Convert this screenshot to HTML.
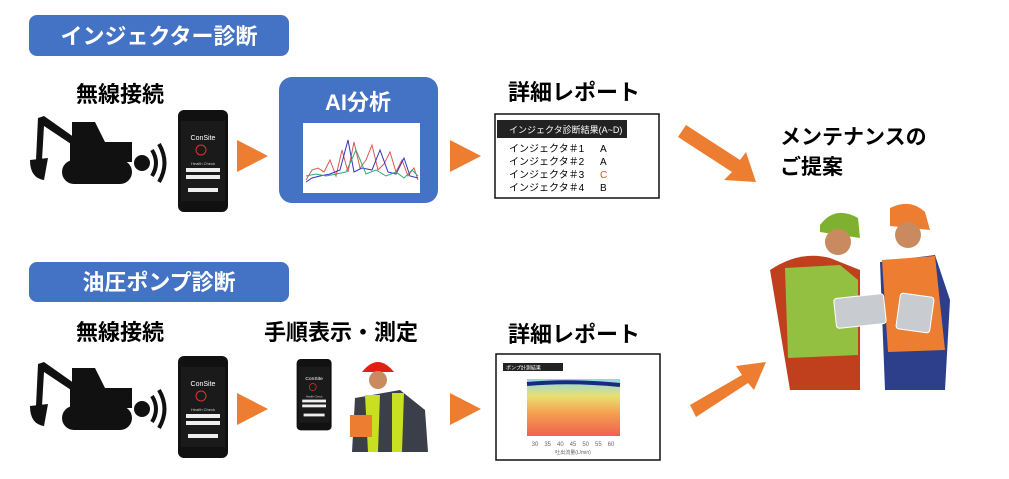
<!DOCTYPE html>
<html><head><meta charset="utf-8"><style>
body{margin:0;background:#fff;width:1009px;height:474px;overflow:hidden;font-family:"Liberation Sans","Noto Sans CJK JP",sans-serif}
svg text{font-family:"Liberation Sans","Noto Sans CJK JP",sans-serif}
</style></head><body>
<svg width="1009" height="474" viewBox="0 0 1009 474" xmlns="http://www.w3.org/2000/svg">
<defs>
<linearGradient id="hm" x1="0" y1="0" x2="0" y2="1">
<stop offset="0" stop-color="#8ed8e8"/><stop offset="0.3" stop-color="#e8e070"/><stop offset="0.6" stop-color="#f5a050"/><stop offset="1" stop-color="#f06050"/></linearGradient>
<g id="exc">
<rect x="62" y="160" width="70" height="24" rx="12" fill="#111"/>
<rect x="70" y="142" width="62" height="20" fill="#111"/>
<path d="M72 142 L72 122 L95 122 L105 142 Z" fill="#111"/>
<path d="M38 118 L44 116 L78 140 L74 146 L44 126 L42 160 L36 160 Z" fill="#111"/>
<path d="M30 160 Q30 178 44 180 L48 158 Z" fill="#111"/>
<circle cx="142" cy="163" r="8" fill="#111"/>
<path d="M152 150 Q160 163 152 176" stroke="#111" stroke-width="4" fill="none"/>
<path d="M159 144 Q170 163 159 182" stroke="#111" stroke-width="4" fill="none"/>
</g>
<g id="phone">
<rect x="178" y="110" width="50" height="102" rx="6" fill="#111"/>
<rect x="181" y="121" width="44" height="80" fill="#1a1a1a"/>
<text x="203" y="140" fill="#fff" font-size="7" text-anchor="middle">ConSite</text>
<circle cx="201" cy="150" r="5" fill="none" stroke="#d33" stroke-width="1"/>
<text x="203" y="165" fill="#ccc" font-size="4" text-anchor="middle">Health Check</text>
<rect x="186" y="168" width="34" height="4" fill="#eee"/><rect x="186" y="175" width="34" height="4" fill="#eee"/>
<rect x="188" y="188" width="30" height="4" fill="#eee"/>
</g>
<polygon id="tri" points="0,0 31,16 0,32" fill="#ed7d31"/>
</defs>

<rect x="29" y="15" width="260" height="41" rx="8" fill="#4472c4"/>
<text x="159" y="44" fill="#fff" font-size="22" font-weight="bold" text-anchor="middle">インジェクター診断</text>
<text x="120" y="102" font-size="22" font-weight="bold" text-anchor="middle">無線接続</text>
<use href="#exc"/><use href="#phone"/>
<use href="#tri" x="237" y="140"/>
<rect x="279" y="77" width="159" height="126" rx="13" fill="#4472c4"/>
<text x="358" y="110" fill="#fff" font-size="22" font-weight="bold" text-anchor="middle">AI分析</text>
<rect x="303" y="123" width="117" height="70" fill="#fff"/>
<polyline points="306,180 312,170 318,168 324,172 330,160 336,176 342,150 348,172 354,142 360,168 366,160 372,145 378,170 384,164 390,152 396,172 402,160 408,176 414,168 418,180" fill="none" stroke="#d55" stroke-width="1"/>
<polyline points="306,182 312,178 320,176 330,174 340,170 348,140 354,172 362,168 372,170 380,150 388,172 396,174 404,158 410,176 418,178" fill="none" stroke="#33b" stroke-width="1"/>
<polyline points="306,176 316,174 326,176 336,174 346,172 356,150 366,174 376,170 386,176 396,172 404,178 412,170 418,176" fill="none" stroke="#3a7" stroke-width="1"/>
<use href="#tri" x="450" y="140"/>
<text x="574" y="100" font-size="22" font-weight="bold" text-anchor="middle">詳細レポート</text>
<rect x="495" y="114" width="164" height="84" fill="#fff" stroke="#111" stroke-width="1.5"/>
<rect x="497" y="120" width="130" height="18" fill="#222"/>
<text x="509" y="133" fill="#fff" font-size="9">インジェクタ診断結果(A~D)</text>
<g font-size="10"><text x="509" y="152">インジェクタ＃1</text><text x="600" y="152">A</text>
<text x="509" y="165">インジェクタ＃2</text><text x="600" y="165">A</text>
<text x="509" y="178">インジェクタ＃3</text><text x="600" y="178" fill="#e05020">C</text>
<text x="509" y="191">インジェクタ＃4</text><text x="600" y="191">B</text></g>
<polygon points="686,125 740,160 746,152 756,182 724,180 732,172 678,137" fill="#ed7d31"/>
<text x="780" y="144" font-size="21" font-weight="bold">メンテナンスの</text>
<text x="780" y="174" font-size="21" font-weight="bold">ご提案</text>

<g>
<path d="M820 225 Q835 205 858 218 L860 238 L820 232 Z" fill="#7fb030"/>
<path d="M890 208 Q910 198 925 212 L930 230 L890 226 Z" fill="#ed7d31"/>
<circle cx="838" cy="242" r="13" fill="#c98a60"/><circle cx="908" cy="235" r="13" fill="#c98a60"/>
<path d="M770 270 Q800 250 830 258 L860 270 L860 390 L790 390 Z" fill="#c0401e"/>
<path d="M785 268 L840 265 L858 280 L858 355 L788 358 Z" fill="#93c040"/>
<path d="M880 262 L935 255 L950 300 L945 390 L885 390 Z" fill="#2d3f8a"/>
<path d="M882 260 L935 256 L945 350 L888 352 Z" fill="#ed7d31"/>
<rect x="835" y="296" width="50" height="30" rx="3" fill="#c8ccd0" stroke="#fff" transform="rotate(-6 860 311)"/>
<rect x="898" y="295" width="34" height="36" rx="3" fill="#c8ccd0" stroke="#fff" transform="rotate(8 915 313)"/>
</g>

<rect x="29" y="262" width="260" height="40" rx="8" fill="#4472c4"/>
<text x="159" y="290" fill="#fff" font-size="22" font-weight="bold" text-anchor="middle">油圧ポンプ診断</text>
<text x="120" y="340" font-size="22" font-weight="bold" text-anchor="middle">無線接続</text>
<use href="#exc" y="246"/><use href="#phone" y="246"/>
<use href="#tri" x="237" y="393"/>
<text x="341" y="340" font-size="22" font-weight="bold" text-anchor="middle">手順表示・測定</text>
<g transform="translate(172,282) scale(0.7)"><use href="#phone" /></g>
<path d="M362 372 Q378 352 394 372 Z" fill="#e02010"/>
<circle cx="378" cy="380" r="9" fill="#c98a60"/>
<path d="M355 398 L400 390 L425 410 L428 452 L352 452 Z" fill="#3a3f4a"/>
<path d="M365 395 L380 395 L378 452 L368 452 Z" fill="#c8e020"/>
<path d="M392 393 L404 393 L402 452 L392 452 Z" fill="#c8e020"/>
<rect x="350" y="415" width="22" height="22" fill="#ed7d31"/>
<use href="#tri" x="450" y="393"/>
<text x="574" y="342" font-size="22" font-weight="bold" text-anchor="middle">詳細レポート</text>
<rect x="496" y="354" width="164" height="106" fill="#fff" stroke="#111" stroke-width="1.5"/>
<rect x="503" y="363" width="60" height="8" fill="#222"/>
<text x="506" y="369.5" fill="#fff" font-size="5">ポンプ計測結果</text>
<rect x="527" y="379" width="93" height="57" fill="url(#hm)"/>
<path d="M527 384 Q570 380 620 385" stroke="#1a2a80" stroke-width="4" fill="none"/>
<text x="573" y="446" font-size="6" fill="#666" text-anchor="middle">30　35　40　45　50　55　60</text>
<text x="573" y="454" font-size="5" fill="#666" text-anchor="middle">吐出流量(L/min)</text>
<polygon points="690,405 742,375 736,366 766,362 754,390 748,383 696,417" fill="#ed7d31"/>
</svg>
</body></html>
